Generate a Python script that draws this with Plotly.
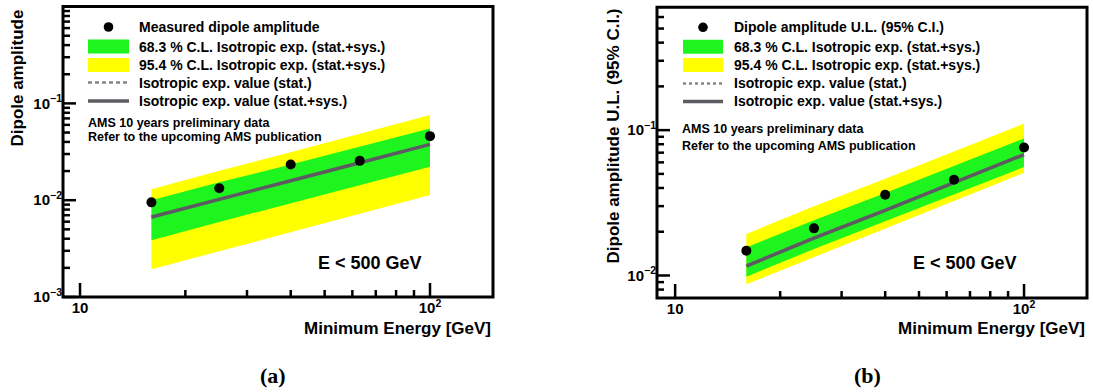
import math
import plotly.graph_objects as go

W, H = 1093, 392

# ---------------- data ----------------
energy = [16, 25, 40, 63, 100]  # minimum energy [GeV]

# panel (a): measured dipole amplitude
a_meas = [0.0095, 0.0133, 0.0234, 0.0255, 0.0459]
a_iso_sys = [0.0067, 0.0103, 0.0159, 0.0244, 0.0377]
a_iso_stat = [0.0066, 0.0102, 0.0158, 0.0242, 0.0374]
a_g_hi = [0.0100, 0.0153, 0.0234, 0.0360, 0.0551]
a_g_lo = [0.00386, 0.00596, 0.00923, 0.0143, 0.0221]
a_y_hi = [0.0130, 0.0202, 0.0313, 0.0487, 0.0757]
a_y_lo = [0.00193, 0.0030, 0.00467, 0.00725, 0.0113]

# panel (b): dipole amplitude upper limit (95% C.I.)
b_ul = [0.0148, 0.0211, 0.0359, 0.0456, 0.0759]
b_iso_sys = [0.0116, 0.0181, 0.0281, 0.0437, 0.0679]
b_iso_stat = [0.0118, 0.0183, 0.0284, 0.0441, 0.0685]
b_g_hi = [0.0156, 0.0240, 0.0369, 0.0569, 0.0877]
b_g_lo = [0.0098, 0.0152, 0.0234, 0.0361, 0.0557]
b_y_hi = [0.0193, 0.0299, 0.0463, 0.0718, 0.111]
b_y_lo = [0.0087, 0.0135, 0.0210, 0.0327, 0.0509]

x_tickvals = [10, 100]
x_ticktext = ["<b>10</b>", "<b>10<sup>2</sup></b>"]
x_minor = [20, 30, 40, 50, 60, 70, 80, 90]

a_y_tickvals = [0.001, 0.01, 0.1, 1]
a_y_ticktext = ["<b>10<sup>\u22123</sup></b>", "<b>10<sup>\u22122</sup></b>",
                "<b>10<sup>\u22121</sup></b>", "<b>1</b>"]
b_y_tickvals = [0.01, 0.1]
b_y_ticktext = ["<b>10<sup>\u22122</sup></b>", "<b>10<sup>\u22121</sup></b>"]

legend_a = ["Measured dipole amplitude",
            "68.3 % C.L. Isotropic exp. (stat.+sys.)",
            "95.4 % C.L. Isotropic exp. (stat.+sys.)",
            "Isotropic exp. value (stat.)",
            "Isotropic exp. value (stat.+sys.)"]
legend_b = ["Dipole amplitude U.L. (95% C.I.)"] + legend_a[1:]

GREEN = "#1ef51e"
YELLOW = "#ffff00"
LINE = "#5e5a62"
STAT = "#858585"
FONT = "Liberation Sans, Arial, Helvetica, sans-serif"


def minor_log(lo, hi):
    vals = []
    for d in range(-4, 3):
        for k in range(2, 10):
            v = k * 10 ** d
            if lo < v < hi:
                vals.append(round(v, 6))
    return vals


def fx(x):
    return x / W


def fy(y):
    return 1 - y / H


fig = go.Figure()


def add_panel(xa, ya, g_hi, g_lo, y_hi, y_lo, stat, sys_, pts, statdash):
    fig.add_trace(go.Scatter(x=energy + energy[::-1], y=y_hi + y_lo[::-1], mode="lines",
                             fill="toself", fillcolor=YELLOW, line=dict(width=0),
                             xaxis=xa, yaxis=ya, showlegend=False, hoverinfo="skip"))
    fig.add_trace(go.Scatter(x=energy + energy[::-1], y=g_hi + g_lo[::-1], mode="lines",
                             fill="toself", fillcolor=GREEN, line=dict(width=0),
                             xaxis=xa, yaxis=ya, showlegend=False, hoverinfo="skip"))
    fig.add_trace(go.Scatter(x=energy, y=stat, mode="lines",
                             line=dict(color=STAT, width=2.5, dash=statdash),
                             xaxis=xa, yaxis=ya, showlegend=False))
    fig.add_trace(go.Scatter(x=energy, y=sys_, mode="lines",
                             line=dict(color=LINE, width=3.5),
                             xaxis=xa, yaxis=ya, showlegend=False))
    fig.add_trace(go.Scatter(x=energy, y=pts, mode="markers",
                             marker=dict(color="black", size=10, line=dict(width=0)),
                             xaxis=xa, yaxis=ya, showlegend=False))


add_panel("x", "y", a_g_hi, a_g_lo, a_y_hi, a_y_lo, a_iso_stat, a_iso_sys, a_meas, "dash")
add_panel("x2", "y2", b_g_hi, b_g_lo, b_y_hi, b_y_lo, b_iso_stat, b_iso_sys, b_ul, "dot")

tickfont = dict(family=FONT, size=15, color="black")


def xaxis(domain, rng, anchor):
    return dict(type="log", domain=domain, range=rng, anchor=anchor, tickmode="array",
                tickvals=x_tickvals, ticktext=x_ticktext, ticks="", showline=False,
                showgrid=False, zeroline=False, tickfont=tickfont)


def yaxis(domain, rng, tv, tt, anchor):
    return dict(type="log", domain=domain, range=rng, anchor=anchor, tickmode="array",
                tickvals=tv, ticktext=tt, ticks="", showline=False,
                showgrid=False, zeroline=False, tickfont=tickfont)


ann = []
shapes = []


def frac(v, rng):
    # position of a value along a log axis, as a fraction of the axis domain
    return (math.log10(v) - rng[0]) / (rng[1] - rng[0])


def frame_and_ticks(xr, yr, xrng, yrng, plot_w, plot_h, xmaj, xmin, ymaj, ymin):
    # tick marks drawn inside the frame (ROOT style), then the frame itself
    for v, ln in [(t, 14) for t in xmaj] + [(t, 7) for t in xmin]:
        f = frac(v, xrng)
        shapes.append(dict(type="line", xref=xr + " domain", yref=yr + " domain",
                           x0=f, x1=f, y0=0, y1=ln / plot_h,
                           line=dict(color="black", width=2.5)))
    for v, ln in [(t, 13) for t in ymaj] + [(t, 7) for t in ymin]:
        f = frac(v, yrng)
        shapes.append(dict(type="line", xref=xr + " domain", yref=yr + " domain",
                           x0=0, x1=ln / plot_w, y0=f, y1=f,
                           line=dict(color="black", width=2.5)))
    shapes.append(dict(type="rect", xref=xr + " domain", yref=yr + " domain",
                       x0=0, x1=1, y0=0, y1=1, line=dict(color="black", width=3)))


def text(x, y, s, size, xanchor="left", family=FONT, angle=0, yanchor="middle"):
    ann.append(dict(x=fx(x), y=fy(y), xref="paper", yref="paper", text="<b>" + s + "</b>",
                    showarrow=False, xanchor=xanchor, yanchor=yanchor, textangle=angle,
                    font=dict(family=family, size=size, color="black")))


def legend(x0, x1, xt, rows, labels, dash):
    cx, cy = (x0 + x1) / 2, rows[0]
    shapes.append(dict(type="circle", xref="paper", yref="paper",
                       x0=fx(cx - 4.8), x1=fx(cx + 4.8), y0=fy(cy + 4.8), y1=fy(cy - 4.8),
                       fillcolor="black", line=dict(width=0)))
    shapes.append(dict(type="rect", xref="paper", yref="paper",
                       x0=fx(x0), x1=fx(x1), y0=fy(rows[1] + 7), y1=fy(rows[1] - 7),
                       fillcolor=GREEN, line=dict(width=0)))
    shapes.append(dict(type="rect", xref="paper", yref="paper",
                       x0=fx(x0), x1=fx(x1), y0=fy(rows[2] + 7), y1=fy(rows[2] - 7),
                       fillcolor=YELLOW, line=dict(width=0)))
    shapes.append(dict(type="line", xref="paper", yref="paper",
                       x0=fx(x0), x1=fx(x1), y0=fy(rows[3]), y1=fy(rows[3]),
                       line=dict(color=STAT, width=2.5, dash=dash)))
    shapes.append(dict(type="line", xref="paper", yref="paper",
                       x0=fx(x0), x1=fx(x1), y0=fy(rows[4]), y1=fy(rows[4]),
                       line=dict(color=LINE, width=3.5)))
    for r, lab in zip(rows, labels):
        text(xt, r, lab, 14)


xa_dom, xa_rng = [63 / W, 493 / W], [0.9514, 2.18]
ya_dom, ya_rng = [1 - 297 / H, 1 - 6.6 / H], [-3, 0]
xb_dom, xb_rng = [657 / W, 1087 / W], [0.948, 2.1805]
yb_dom, yb_rng = [1 - 298 / H, 1 - 7.3 / H], [math.log10(0.007), math.log10(0.7)]

frame_and_ticks("x", "y", xa_rng, ya_rng, 430, 290.4, x_tickvals, x_minor,
                a_y_tickvals, minor_log(10 ** ya_rng[0], 10 ** ya_rng[1]))
frame_and_ticks("x2", "y2", xb_rng, yb_rng, 430, 290.7, x_tickvals, x_minor,
                b_y_tickvals, minor_log(10 ** yb_rng[0], 10 ** yb_rng[1]))

legend(88, 129, 137, [27, 46.5, 65, 82.5, 101], legend_a, "4px,3px")
legend(683, 723, 732, [27.3, 46.7, 65, 83.5, 101.5], legend_b, "dot")

text(86, 122.7, "AMS 10 years preliminary data", 12.5)
text(86, 137.5, "Refer to the upcoming AMS publication", 12.5)
text(680, 129.3, "AMS 10 years preliminary data", 12.5)
text(680, 145.7, "Refer to the upcoming AMS publication", 12.5)

text(370, 263, "E &lt; 500 GeV", 18, xanchor="center")
text(965, 263, "E &lt; 500 GeV", 18, xanchor="center")

text(493, 328, "Minimum Energy [GeV]", 17, xanchor="right")
text(1087, 328, "Minimum Energy [GeV]", 17, xanchor="right")

text(17, 8, "Dipole amplitude", 17, xanchor="center", angle=-90, yanchor="top")
text(613, 7, "Dipole amplitude U.L. (95% C.I.)", 17, xanchor="center", angle=-90, yanchor="top")

text(273, 375, "(a)", 22, xanchor="center", family="Liberation Serif, Times New Roman, serif")
text(867, 375, "(b)", 22, xanchor="center", family="Liberation Serif, Times New Roman, serif")

fig.update_layout(
    template="none",
    width=W, height=H, margin=dict(l=0, r=0, t=0, b=0, autoexpand=False),
    paper_bgcolor="white", plot_bgcolor="white",
    font=dict(family=FONT, color="black"),
    showlegend=False,
    xaxis=xaxis(xa_dom, xa_rng, "y"),
    yaxis=yaxis(ya_dom, ya_rng, a_y_tickvals, a_y_ticktext, "x"),
    xaxis2=xaxis(xb_dom, xb_rng, "y2"),
    yaxis2=yaxis(yb_dom, yb_rng, b_y_tickvals, b_y_ticktext, "x2"),
    annotations=ann, shapes=shapes,
)

fig.write_html("out.html", config={"displayModeBar": False},
               post_script="document.body.style.margin='0px';"
                           "document.body.style.overflow='hidden';")
